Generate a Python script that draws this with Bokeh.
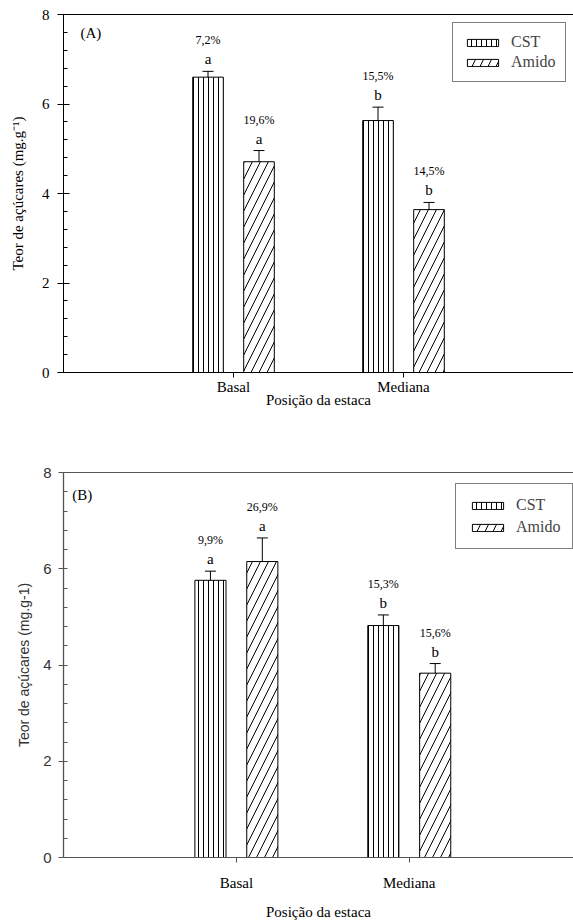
from bokeh.plotting import figure
from bokeh.models import (ColumnDataSource, Whisker, TeeHead, Legend, LegendItem,
                          Range1d, LinearAxis, Label, FixedTicker, SingleIntervalTicker)
from bokeh.core.properties import value
from bokeh.layouts import column
from bokeh.transform import dodge
from bokeh.embed import file_html
from bokeh.resources import INLINE

# ---------------- data ----------------
positions = ["Basal", "Mediana"]
pos_index = [1, 2]

a_cst = [6.60, 5.63]
a_cst_err = [0.13, 0.30]
a_amido = [4.71, 3.64]
a_amido_err = [0.25, 0.16]
a_cst_letters = ["a", "b"]
a_amido_letters = ["a", "b"]
a_cst_cv = ["7,2%", "15,5%"]
a_amido_cv = ["19,6%", "14,5%"]

b_cst = [5.76, 4.82]
b_cst_err = [0.19, 0.22]
b_amido = [6.15, 3.83]
b_amido_err = [0.49, 0.20]
b_cst_letters = ["a", "b"]
b_amido_letters = ["a", "b"]
b_cst_cv = ["9,9%", "15,3%"]
b_amido_cv = ["26,9%", "15,6%"]

SERIF = "Liberation Serif"
SANS = "Liberation Sans"


def make_panel(tag, cst, cst_err, amido, amido_err, cst_let, amido_let, cst_cv, amido_cv,
               height, border_left, border_top, border_bottom, x_end, ylabel,
               tick_font, axis_color, label_color, legend_loc, legend_pad, legend_space,
               tag_xy, sans_axis):
    src_c = ColumnDataSource(dict(x=pos_index, v=cst, lo=[v - e for v, e in zip(cst, cst_err)],
                                  hi=[v + e for v, e in zip(cst, cst_err)], let=cst_let, cv=cst_cv))
    src_a = ColumnDataSource(dict(x=pos_index, v=amido, lo=[v - e for v, e in zip(amido, amido_err)],
                                  hi=[v + e for v, e in zip(amido, amido_err)], let=amido_let, cv=amido_cv))
    p = figure(width=573, height=height, output_backend="svg", toolbar_location=None,
               x_range=Range1d(0, x_end), y_range=Range1d(0, 8),
               min_border_left=border_left, min_border_right=0,
               min_border_top=border_top, min_border_bottom=border_bottom)
    p.outline_line_color = None
    p.grid.visible = False
    p.background_fill_color = "white"

    cst_r = p.vbar(x=dodge("x", -0.15), top="v", width=0.18, source=src_c,
                   fill_color="white", line_color="black", line_width=1,
                   hatch_pattern="vertical_line", hatch_scale=5, hatch_color="black",
                   hatch_weight=1)
    am_r = p.vbar(x=dodge("x", 0.15), top="v", width=0.18, source=src_a,
                  fill_color="white", line_color="black", line_width=1,
                  hatch_pattern="right_diagonal_line", hatch_scale=16, hatch_color="black",
                  hatch_weight=1)
    for src, off in ((src_c, -0.15), (src_a, 0.15)):
        w = Whisker(base=dodge("x", off), upper="hi", lower="lo", source=src,
                    line_color="black", line_width=1,
                    upper_head=TeeHead(size=11, line_color="black", line_width=1),
                    lower_head=TeeHead(size=11, line_color="black", line_width=1))
        p.add_layout(w)
        p.text(x=dodge("x", off), y="hi", text="let", source=src, y_offset=-12,
               text_align="center", text_baseline="middle",
               text_font=value(SERIF), text_font_size="15px", text_color="black")
        p.text(x=dodge("x", off), y="hi", text="cv", source=src, y_offset=-31,
               text_align="center", text_baseline="middle",
               text_font=value(SERIF), text_font_size="12px", text_color="black")

    # x axis
    xa = p.xaxis[0]
    xa.ticker = FixedTicker(ticks=pos_index, minor_ticks=[])
    xa.major_label_overrides = {i: n for i, n in zip(pos_index, positions)}
    xa.axis_label = "Posição da estaca"
    xa.axis_label_text_font = SERIF
    xa.axis_label_text_font_style = "normal"
    xa.axis_label_text_font_size = "15px"
    xa.axis_label_text_color = "black"
    xa.major_label_text_font = SERIF
    xa.major_label_text_font_size = "15px"
    xa.major_label_text_color = "black"
    xa.axis_line_color = axis_color
    xa.major_tick_line_color = axis_color
    xa.major_tick_in = 0
    xa.major_tick_out = 5
    xa.major_label_standoff = 1 if not sans_axis else 12
    xa.axis_label_standoff = -6 if not sans_axis else 10

    # y axis
    ya = p.yaxis[0]
    ya.ticker = SingleIntervalTicker(interval=2, num_minor_ticks=5)
    ya.axis_label = ylabel
    ya.axis_label_text_font = SANS if sans_axis else SERIF
    ya.axis_label_text_font_style = "normal"
    ya.axis_label_text_font_size = "14px" if sans_axis else "15px"
    ya.axis_label_text_color = label_color
    ya.major_label_text_font = tick_font
    ya.major_label_text_font_size = "15px"
    ya.major_label_text_color = label_color
    ya.axis_line_color = axis_color
    ya.axis_line_width = 1.3 if sans_axis else 1
    ya.major_tick_line_color = axis_color
    ya.minor_tick_line_color = axis_color
    ya.major_tick_in = 0 if sans_axis else 6
    ya.major_tick_out = 5 if sans_axis else 6
    ya.minor_tick_in = 4
    ya.minor_tick_out = 0
    ya.major_label_standoff = 7 if sans_axis else 8
    ya.axis_label_standoff = 8 if sans_axis else 13

    # top border line
    top = LinearAxis(major_tick_line_color=None, minor_tick_line_color=None,
                     major_label_text_font_size="0px", axis_line_color=axis_color)
    top.ticker = FixedTicker(ticks=[])
    p.add_layout(top, "above")

    legend = Legend(items=[LegendItem(label="CST", renderers=[cst_r]),
                           LegendItem(label="Amido", renderers=[am_r])],
                    location=legend_loc, glyph_width=39, glyph_height=9,
                    label_text_font=SERIF, label_text_font_size="16px",
                    label_standoff=9, label_height=18, spacing=legend_space,
                    padding=legend_pad, margin=0, border_line_color="black",
                    border_line_width=1, background_fill_alpha=1)
    p.add_layout(legend)

    p.add_layout(Label(x=tag_xy[0], y=tag_xy[1], text=tag, text_font=SERIF,
                       text_font_size="15px", text_baseline="middle", text_color="black"))
    return p


pa = make_panel("(A)", a_cst, a_cst_err, a_amido, a_amido_err, a_cst_letters, a_amido_letters,
                a_cst_cv, a_amido_cv, height=448, border_left=63, border_top=14, border_bottom=76,
                x_end=3.0, ylabel="Teor de açúcares (mg.g\u207b\u00b9)", tick_font=SERIF,
                axis_color="black", label_color="black", legend_loc=(389, 290),
                legend_pad=10, legend_space=2, tag_xy=(0.10, 7.58), sans_axis=False)

pb = make_panel("(B)", b_cst, b_cst_err, b_amido, b_amido_err, b_cst_letters, b_amido_letters,
                b_cst_cv, b_amido_cv, height=474, border_left=57, border_top=24, border_bottom=65,
                x_end=2.95, ylabel="Teor de açúcares (mg.g-1)", tick_font=SANS,
                axis_color="#555555", label_color="#333333", legend_loc=(392, 308),
                legend_pad=12, legend_space=4, tag_xy=(0.05, 7.54), sans_axis=True)

layout = column(pa, pb, spacing=0)
open("out.html", "w").write(file_html(layout, INLINE))
